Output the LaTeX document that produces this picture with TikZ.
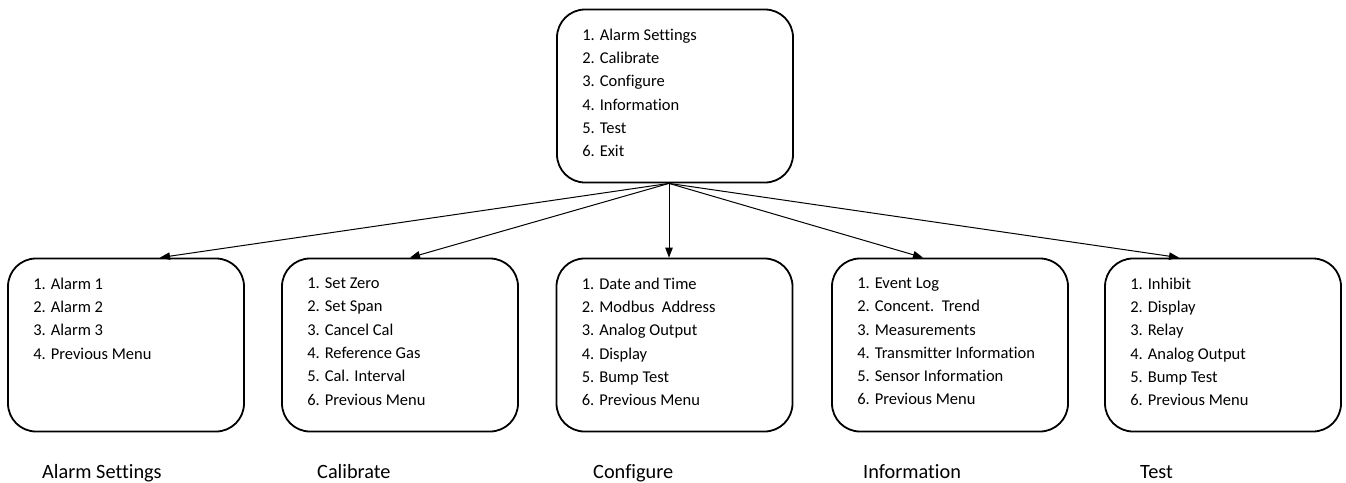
\documentclass[tikz,border=0pt]{standalone}
\usepackage{fontspec}
\setmainfont[Ligatures=CommonOff]{Carlito}
\usetikzlibrary{arrows.meta,calc}
\begin{document}
\begin{tikzpicture}[x=1pt,y=-1pt,
  box/.style={draw,line width=1.8pt,rounded corners=28pt,minimum width=236pt,minimum height=173pt,inner sep=0pt},
  menu/.style={anchor=north west,align=left,inner sep=0pt,font=\fontsize{16.5}{23.3}\selectfont},
  caption/.style={anchor=base west,inner sep=0pt,font=\fontsize{20.3}{24}\selectfont},
  arr/.style={line width=1pt,-{Triangle[length=10pt,width=7.5pt]}}]
\useasboundingbox (0,0) rectangle (1346,482);
\node[box] (top) at (675,96) {};
\node[box] (b1) at (126,345) {};
\node[box] (b2) at (400,345) {};
\node[box] (b3) at (674.5,345) {};
\node[box] (b4) at (950,345) {};
\node[box] (b5) at (1223,345) {};
\node[menu] (t0) at ($(top.north west)+(26,20)$) {1. Alarm Settings\\2. Calibrate\\3. Configure\\4. Information\\5. Test\\6. Exit};
\node[menu] (t1) at ($(b1.north west)+(26,20)$) {1. Alarm 1\\2. Alarm 2\\3. Alarm 3\\4. Previous Menu};
\node[menu] (t2) at ($(b2.north west)+(26,20)$) {1. Set Zero\\2. Set Span\\3. Cancel Cal\\4. Reference Gas\\5. Cal. Interval\\6. Previous Menu};
\node[menu] (t3) at ($(b3.north west)+(26,20)$) {1. Date and Time\\2. Modbus\ \ Address\\3. Analog Output\\4. Display\\5. Bump Test\\6. Previous Menu};
\node[menu] (t4) at ($(b4.north west)+(26,20)$) {1. Event Log\\2. Concent.\ \ Trend\\3. Measurements\\4. Transmitter Information\\5. Sensor Information\\6. Previous Menu};
\node[menu] (t5) at ($(b5.north west)+(26,20)$) {1. Inhibit\\2. Display\\3. Relay\\4. Analog Output\\5. Bump Test\\6. Previous Menu};
\node[caption] (c1) at (42,478) {Alarm Settings};
\node[caption] (c2) at (317,478) {Calibrate};
\node[caption] (c3) at (593,478) {Configure};
\node[caption] (c4) at (863,478) {Information};
\node[caption] (c5) at (1140,478) {Test};
\coordinate (o) at ($(top.south)+(-6,0)$);
\coordinate (e1) at ($(b1.north)+(34,0)$);
\coordinate (e2) at ($(b2.north)+(10,0)$);
\coordinate (e3) at ($(b3.north)+(-5.5,0)$);
\coordinate (e4) at ($(b4.north)+(-27,0)$);
\coordinate (e5) at ($(b5.north)+(-44,0)$);
\draw[arr] (o) -- (e1);
\draw[arr] (o) -- (e2);
\draw[arr] (o) -- (e3);
\draw[arr] (o) -- (e4);
\draw[arr] (o) -- (e5);
\end{tikzpicture}
\end{document}
